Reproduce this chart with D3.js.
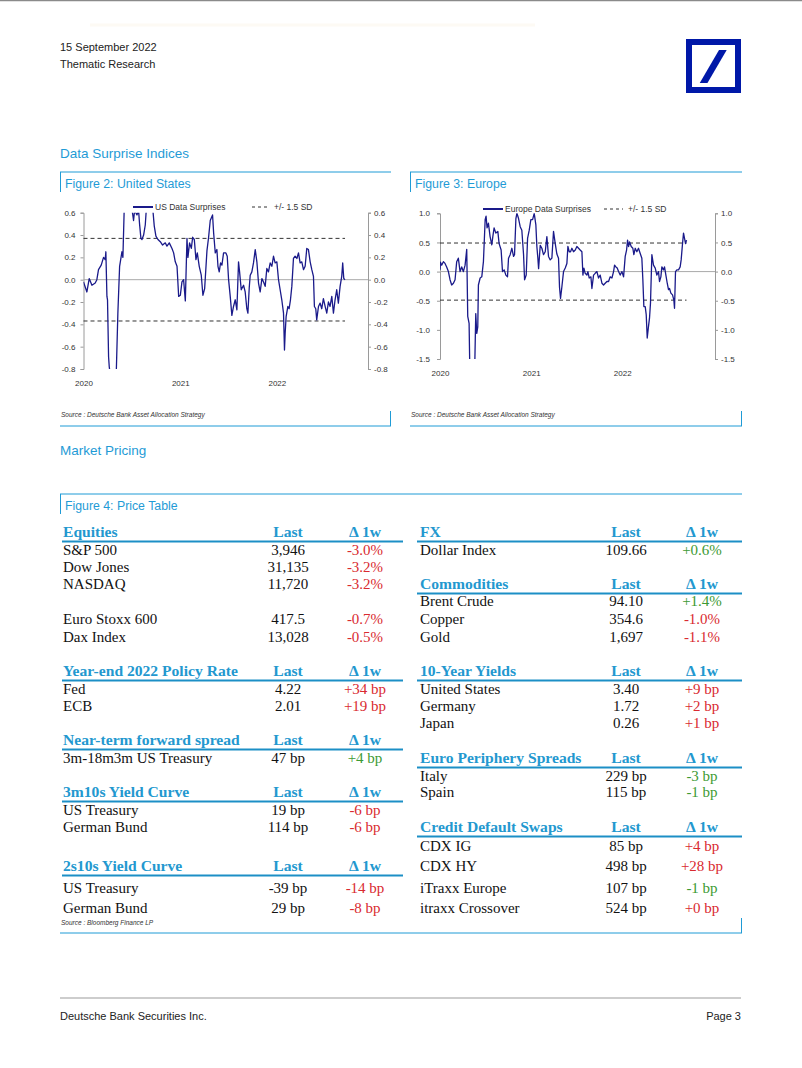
<!DOCTYPE html>
<html>
<head>
<meta charset="utf-8">
<script src="https://cdn.jsdelivr.net/npm/d3@7"></script>
<style>
  body { margin: 0; background: #fff; }
  svg { display: block; font-family: "Liberation Sans", Arial, sans-serif; }
</style>
</head>
<body>
<script>
// ---------------- DATA ----------------
// US Data Surprises (decimal year, index value)
const usTime = [2020.000,2020.035,2020.059,2020.087,2020.121,2020.138,2020.155,2020.183,2020.207,2020.224,2020.231,2020.242,2020.248,2020.259,2020.266,2020.276,2020.300,2020.320,2020.338,2020.355,2020.373,2020.397,2020.407,2020.421,2020.466,2020.517,2020.528,2020.552,2020.569,2020.579,2020.593,2020.604,2020.621,2020.638,2020.648,2020.683,2020.717,2020.731,2020.748,2020.769,2020.793,2020.817,2020.845,2020.862,2020.886,2020.914,2020.931,2020.948,2020.966,2020.983,2021.000,2021.017,2021.034,2021.052,2021.069,2021.079,2021.096,2021.114,2021.128,2021.145,2021.162,2021.176,2021.196,2021.217,2021.234,2021.252,2021.276,2021.293,2021.310,2021.334,2021.345,2021.362,2021.379,2021.390,2021.403,2021.417,2021.431,2021.448,2021.472,2021.486,2021.500,2021.517,2021.534,2021.551,2021.569,2021.586,2021.603,2021.614,2021.631,2021.655,2021.672,2021.689,2021.700,2021.714,2021.724,2021.741,2021.758,2021.776,2021.793,2021.810,2021.827,2021.845,2021.862,2021.879,2021.896,2021.913,2021.931,2021.948,2021.965,2021.982,2022.000,2022.017,2022.034,2022.051,2022.069,2022.079,2022.086,2022.096,2022.114,2022.127,2022.141,2022.155,2022.172,2022.189,2022.207,2022.224,2022.241,2022.258,2022.276,2022.293,2022.310,2022.327,2022.345,2022.362,2022.379,2022.389,2022.403,2022.413,2022.431,2022.448,2022.465,2022.482,2022.500,2022.517,2022.534,2022.551,2022.569,2022.586,2022.603,2022.620,2022.637,2022.655,2022.672,2022.682,2022.693,2022.706];
const usValue = [-0.02,-0.11,0.01,-0.05,-0.03,0.00,0.09,0.13,0.20,0.18,0.25,-0.15,-0.18,-0.69,-0.78,-0.85,-1.10,-1.05,-0.85,-0.30,0.12,0.25,0.20,0.65,0.85,0.53,0.62,0.58,0.62,0.50,0.37,0.36,0.40,0.49,0.62,0.72,0.62,0.48,0.39,0.36,0.34,0.31,0.33,0.30,0.33,0.28,0.24,0.16,0.12,-0.15,-0.14,-0.02,0.00,-0.19,0.37,0.20,0.33,0.28,0.38,0.36,0.18,0.24,0.12,0.04,-0.14,-0.08,0.26,0.38,0.53,0.58,0.42,0.24,0.27,0.12,0.07,0.15,0.13,0.24,0.24,0.21,0.00,-0.15,-0.32,-0.24,-0.18,-0.27,0.16,0.07,-0.09,-0.05,-0.11,-0.26,-0.30,-0.07,0.04,0.07,0.15,0.27,0.16,-0.03,-0.11,0.01,-0.02,-0.06,0.10,0.07,0.15,0.12,0.21,0.15,0.16,0.00,-0.09,-0.18,-0.30,-0.63,-0.48,-0.33,-0.24,-0.26,-0.18,-0.06,0.19,0.21,0.19,0.24,0.15,0.16,0.09,0.12,0.28,0.27,0.16,0.09,0.03,-0.24,-0.26,-0.36,-0.24,-0.21,-0.26,-0.17,-0.24,-0.30,-0.20,-0.24,-0.15,-0.30,-0.18,-0.09,-0.21,-0.06,0.03,0.15,0.01,0.00];

// Europe Data Surprises (decimal year, index value)
const euTime = [2020.000,2020.005,2020.018,2020.037,2020.055,2020.073,2020.092,2020.110,2020.128,2020.147,2020.165,2020.183,2020.201,2020.220,2020.238,2020.256,2020.275,2020.293,2020.304,2020.319,2020.326,2020.350,2020.380,2020.392,2020.403,2020.414,2020.421,2020.440,2020.458,2020.476,2020.495,2020.505,2020.516,2020.531,2020.549,2020.568,2020.579,2020.593,2020.612,2020.634,2020.648,2020.670,2020.685,2020.703,2020.722,2020.740,2020.751,2020.769,2020.788,2020.806,2020.817,2020.832,2020.843,2020.861,2020.879,2020.897,2020.916,2020.927,2020.945,2020.960,2020.978,2020.996,2021.015,2021.033,2021.051,2021.062,2021.073,2021.081,2021.099,2021.117,2021.135,2021.154,2021.172,2021.190,2021.209,2021.227,2021.245,2021.264,2021.282,2021.300,2021.311,2021.322,2021.337,2021.355,2021.374,2021.392,2021.403,2021.418,2021.432,2021.447,2021.465,2021.484,2021.502,2021.520,2021.538,2021.557,2021.568,2021.579,2021.593,2021.612,2021.623,2021.637,2021.656,2021.667,2021.685,2021.703,2021.722,2021.740,2021.758,2021.777,2021.795,2021.813,2021.832,2021.850,2021.868,2021.887,2021.905,2021.916,2021.931,2021.945,2021.960,2021.978,2021.997,2022.015,2022.033,2022.048,2022.059,2022.070,2022.081,2022.099,2022.117,2022.128,2022.143,2022.161,2022.179,2022.198,2022.216,2022.227,2022.238,2022.253,2022.264,2022.275,2022.289,2022.300,2022.311,2022.326,2022.344,2022.363,2022.381,2022.399,2022.410,2022.425,2022.436,2022.454,2022.465,2022.480,2022.495,2022.509,2022.520,2022.535,2022.553,2022.568,2022.575,2022.586,2022.601,2022.619,2022.637,2022.648,2022.663,2022.674,2022.685,2022.696,2022.707];
const euValue = [0.03,0.16,0.11,0.17,0.14,0.08,0.00,-0.14,-0.23,-0.20,-0.14,0.17,0.23,0.00,0.08,0.00,0.11,0.38,-0.77,-0.89,-1.60,-2.00,-1.70,-0.72,-1.06,-0.95,-0.23,-0.11,-0.09,0.17,0.89,0.95,0.75,0.83,0.60,0.46,0.60,0.75,0.66,0.69,0.48,0.37,0.00,0.03,-0.06,-0.09,0.23,0.29,0.40,0.26,0.29,0.91,1.00,0.91,0.77,0.71,0.29,-0.14,-0.06,0.57,0.71,0.89,0.89,1.00,0.80,0.43,0.23,0.05,0.45,0.40,0.29,0.34,0.60,0.26,0.20,0.23,0.69,0.48,0.30,0.23,-0.27,-0.46,-0.26,0.00,0.06,0.14,0.43,0.34,0.34,0.40,0.34,0.37,0.43,0.40,0.37,0.34,-0.06,0.06,-0.03,-0.06,0.00,-0.11,-0.09,-0.29,-0.06,-0.03,0.00,-0.11,-0.06,-0.20,-0.23,-0.20,-0.17,-0.17,-0.09,-0.11,0.00,0.11,0.08,0.06,0.00,-0.06,0.00,-0.09,0.26,0.37,0.54,0.43,0.51,0.43,0.40,0.29,0.40,0.34,0.40,0.31,0.23,-0.14,-0.60,-0.60,-0.74,-1.14,-0.94,-0.80,-0.54,0.29,0.11,0.06,-0.06,0.00,-0.17,-0.09,0.08,0.03,0.08,-0.06,-0.20,-0.31,-0.29,-0.37,-0.40,-0.49,-0.63,0.00,0.03,0.03,0.08,0.20,0.48,0.66,0.57,0.48,0.54];

const usBand = 0.37;       // +/- 1.5 SD
const euBand = 0.49;
const usYTicks = [-0.8,-0.6,-0.4,-0.2,0.0,0.2,0.4,0.6];
const euYTicks = [-1.5,-1.0,-0.5,0.0,0.5,1.0];
const yearTicks = [2020, 2021, 2022];

// Price table (row-by-row; "h" = section header row)
const leftLabels  = ["Equities","S&P 500","Dow Jones","NASDAQ","","Euro Stoxx 600","Dax Index","","Year-end 2022 Policy Rate","Fed","ECB","","Near-term forward spread","3m-18m3m US Treasury","","3m10s Yield Curve","US Treasury","German Bund","","2s10s Yield Curve","US Treasury","German Bund"];
const leftLast    = ["Last","3,946","31,135","11,720","","417.5","13,028","","Last","4.22","2.01","","Last","47 bp","","Last","19 bp","114 bp","","Last","-39 bp","29 bp"];
const leftChange  = ["Δ 1w","-3.0%","-3.2%","-3.2%","","-0.7%","-0.5%","","Δ 1w","+34 bp","+19 bp","","Δ 1w","+4 bp","","Δ 1w","-6 bp","-6 bp","","Δ 1w","-14 bp","-8 bp"];
const leftSignal  = ["h","neg","neg","neg","","neg","neg","","h","neg","neg","","h","pos","","h","neg","neg","","h","neg","neg"];

const rightLabels = ["FX","Dollar Index","","Commodities","Brent Crude","Copper","Gold","","10-Year Yields","United States","Germany","Japan","","Euro Periphery Spreads","Italy","Spain","","Credit Default Swaps","CDX IG","CDX HY","iTraxx Europe","itraxx Crossover"];
const rightLast   = ["Last","109.66","","Last","94.10","354.6","1,697","","Last","3.40","1.72","0.26","","Last","229 bp","115 bp","","Last","85 bp","498 bp","107 bp","524 bp"];
const rightChange = ["Δ 1w","+0.6%","","Δ 1w","+1.4%","-1.0%","-1.1%","","Δ 1w","+9 bp","+2 bp","+1 bp","","Δ 1w","-3 bp","-1 bp","","Δ 1w","+4 bp","+28 bp","-1 bp","+0 bp"];
const rightSignal = ["h","pos","","h","pos","neg","neg","","h","neg","neg","neg","","h","pos","pos","","h","neg","neg","pos","neg"];

// ---------------- DRAWING ----------------
const W = 802, H = 1068;
const BLUE = "#1f9bd6", NAVY = "#1a1a8a", DB = "#0018a8";
const SERIF = "'Liberation Serif', 'Times New Roman', serif";
const svg = d3.select("body").append("svg").attr("width", W).attr("height", H);
svg.append("rect").attr("width", W).attr("height", H).attr("fill", "#fff");

const toDate = t => {
  const y = Math.floor(t);
  const a = new Date(y, 0, 1), b = new Date(y + 1, 0, 1);
  return new Date(+a + (t - y) * (b - a));
};
const fmt = d => d3.format(".1f")(d).replace("\u2212", "-");

// page chrome
svg.append("line").attr("x1", 0).attr("x2", W).attr("y1", 0.5).attr("y2", 0.5).attr("stroke", "#8a8a8a").attr("stroke-width", 1.5);
svg.append("line").attr("x1", 90).attr("x2", 535).attr("y1", 25).attr("y2", 25).attr("stroke", "#fdfaf4").attr("stroke-width", 3);
svg.append("text").attr("x", 60).attr("y", 51).attr("font-size", 11).attr("fill", "#222").text("15 September 2022");
svg.append("text").attr("x", 60).attr("y", 68).attr("font-size", 11).attr("fill", "#222").text("Thematic Research");

// logo
const lg = svg.append("g").attr("transform", "translate(686,39)");
const S = 55;
lg.append("rect").attr("width", S).attr("height", S - 1).attr("fill", DB);
lg.append("rect").attr("x", 6).attr("y", 6).attr("width", S - 12).attr("height", S - 13).attr("fill", "#fff");
lg.append("path").attr("fill", DB)
  .attr("d", `M${S*0.25},${S*0.8} L${S*0.39},${S*0.8} L${S*0.74},${S*0.2} L${S*0.6},${S*0.2} Z`);

svg.append("text").attr("x", 60).attr("y", 158).attr("font-size", 13.5).attr("fill", BLUE).text("Data Surprise Indices");
svg.append("text").attr("x", 60).attr("y", 455).attr("font-size", 13.5).attr("fill", BLUE).text("Market Pricing");

// figure frames
function frame(x0, x1, yTop, yBot, title, source, tickH) {
  const g = svg.append("g");
  g.append("line").attr("x1", x0).attr("x2", x1).attr("y1", yTop).attr("y2", yTop).attr("stroke", BLUE).attr("stroke-width", 1);
  g.append("line").attr("x1", x0 + 0.5).attr("x2", x0 + 0.5).attr("y1", yTop).attr("y2", yTop + 20).attr("stroke", BLUE).attr("stroke-width", 1);
  g.append("text").attr("x", x0 + 5).attr("y", yTop + 16).attr("font-size", 12.3).attr("fill", BLUE).text(title);
  g.append("line").attr("x1", x0).attr("x2", x1).attr("y1", yBot).attr("y2", yBot).attr("stroke", BLUE).attr("stroke-width", 1);
  g.append("line").attr("x1", x1 - 0.5).attr("x2", x1 - 0.5).attr("y1", yBot - tickH).attr("y2", yBot).attr("stroke", BLUE).attr("stroke-width", 1);
  if (source) g.append("text").attr("x", x0 + 1).attr("y", yBot - 9).attr("font-size", 6.5).attr("font-style", "italic").attr("fill", "#333").text(source);
}
frame(60, 391, 172, 426, "Figure 2: United States", "Source : Deutsche Bank Asset Allocation Strategy", 15);
frame(410, 742, 172, 426, "Figure 3: Europe", "Source : Deutsche Bank Asset Allocation Strategy", 15);
frame(60, 742, 494, 933, "Figure 4: Price Table", null, 15);
svg.append("text").attr("x", 61).attr("y", 924.5).attr("font-size", 6.5).attr("font-style", "italic").attr("fill", "#333").text("Source : Bloomberg Finance LP");

// line charts
function lineChart(c) {
  const g = svg.append("g");
  const x = d3.scaleTime().domain([toDate(2020), toDate(c.xEnd)]).range([c.x0, c.x1]);
  const y = d3.scaleLinear().domain(c.yDomain).range([c.y1, c.y0]);
  const data = c.time.map((t, i) => ({ d: toDate(t), v: c.value[i] }));
  const clipId = "clip" + c.id;
  g.append("clipPath").attr("id", clipId).append("rect")
    .attr("x", c.x0).attr("y", c.y0).attr("width", c.x1 - c.x0).attr("height", c.y1 - c.y0);

  const axStyle = sel => {
    sel.select(".domain").attr("stroke", "#9a9a9a");
    sel.selectAll(".tick line").attr("stroke", "#9a9a9a");
    sel.selectAll(".tick text").attr("font-size", 8).attr("fill", "#333")
      .attr("font-family", "'Liberation Sans', Arial, sans-serif");
  };
  g.append("g").attr("transform", `translate(${c.x0},0)`)
    .call(d3.axisLeft(y).tickValues(c.yTicks).tickFormat(fmt).tickSizeInner(3).tickSizeOuter(3).tickPadding(c.padL))
    .call(axStyle);
  g.append("g").attr("transform", `translate(${c.x1},0)`)
    .call(d3.axisRight(y).tickValues(c.yTicks).tickFormat(fmt).tickSizeInner(3).tickSizeOuter(3).tickPadding(c.padR))
    .call(axStyle);
  const xa = g.append("g").attr("transform", `translate(0,${c.y1})`)
    .call(d3.axisBottom(x).tickValues(yearTicks.map(toDate)).tickFormat(d3.timeFormat("%Y")).tickSize(0).tickPadding(c.padX))
    .call(axStyle);
  xa.select(".domain").remove();

  g.append("line").attr("x1", c.x0).attr("x2", c.x1).attr("y1", y(0)).attr("y2", y(0))
    .attr("stroke", "#aaa").attr("stroke-width", 1);
  const dStart = x(data[0].d), dEnd = x(data[data.length - 1].d);
  [c.band, -c.band].forEach(b => {
    g.append("line").attr("x1", dStart).attr("x2", dEnd).attr("y1", y(b)).attr("y2", y(b))
      .attr("stroke", "#333").attr("stroke-width", 1).attr("stroke-dasharray", "4,3");
  });
  g.append("path").datum(data).attr("clip-path", `url(#${clipId})`)
    .attr("fill", "none").attr("stroke", NAVY).attr("stroke-width", 1.3).attr("stroke-linejoin", "round")
    .attr("d", d3.line().x(d => x(d.d)).y(d => y(d.v)));

  const L = c.legend;
  g.append("line").attr("x1", L.x).attr("x2", L.x + 20).attr("y1", L.y).attr("y2", L.y).attr("stroke", NAVY).attr("stroke-width", 2);
  g.append("text").attr("x", L.x + 22).attr("y", L.y + 3).attr("font-size", 8.5).attr("fill", "#333").text(c.name);
  g.append("line").attr("x1", L.x2).attr("x2", L.x2 + L.dashW).attr("y1", L.y).attr("y2", L.y)
    .attr("stroke", "#333").attr("stroke-width", 1).attr("stroke-dasharray", "3,3");
  g.append("text").attr("x", L.x2 + L.dashW + 5).attr("y", L.y + 3).attr("font-size", 8.5).attr("fill", "#333").text("+/- 1.5 SD");
}

lineChart({ id: "us", time: usTime, value: usValue, band: usBand, xEnd: 2022.944,
  x0: 83.5, x1: 368, y0: 212.7, y1: 369, yDomain: [-0.8, 0.6], yTicks: usYTicks,
  padL: 5, padR: 3, padX: 11, name: "US Data Surprises",
  legend: { x: 133, y: 207, x2: 252, dashW: 17 } });
lineChart({ id: "eu", time: euTime, value: euValue, band: euBand, xEnd: 2023.02,
  x0: 440, x1: 715, y0: 213.3, y1: 359, yDomain: [-1.5, 1.0], yTicks: euYTicks,
  padL: 7, padR: 3, padX: 11, name: "Europe Data Surprises",
  legend: { x: 483, y: 209, x2: 604, dashW: 19 } });

// price table
const rowY = [537,555,572,589,606,624,642,659,676,694,711,728,745,763,781,797,815,832,851,871,893,913];
const sigColor = { neg: "#d92a30", pos: "#3c9a33" };
function table(labels, last, change, signal, xl, xLast, xChg, lx0, lx1) {
  const g = svg.append("g");
  labels.forEach((lab, i) => {
    if (!lab) return;
    const y = rowY[i];
    const hdr = signal[i] === "h";
    const t = (xx, txt, anchor, fill) => g.append("text").attr("x", xx).attr("y", y)
      .attr("text-anchor", anchor).attr("fill", fill)
      .style("font-family", SERIF).style("font-size", hdr ? "15.6px" : "15px")
      .style("font-weight", hdr ? "bold" : "normal").text(txt);
    if (hdr) {
      t(xl, lab, "start", "#2398cf");
      t(xLast, last[i], "middle", "#2398cf");
      t(xChg, change[i], "middle", "#2398cf");
      g.append("line").attr("x1", lx0).attr("x2", lx1).attr("y1", y + 4.5).attr("y2", y + 4.5)
        .attr("stroke", "#1c8fc6").attr("stroke-width", 2);
    } else {
      t(xl, lab, "start", "#111");
      t(xLast, last[i], "middle", "#111");
      t(xChg, change[i], "middle", sigColor[signal[i]]);
    }
  });
}
table(leftLabels, leftLast, leftChange, leftSignal, 63, 288, 365, 62, 403);
table(rightLabels, rightLast, rightChange, rightSignal, 420, 626, 702, 417, 742);

// footer
svg.append("line").attr("x1", 60).attr("x2", 741).attr("y1", 998).attr("y2", 998).attr("stroke", "#bdbdbd").attr("stroke-width", 1.5);
svg.append("text").attr("x", 60).attr("y", 1020).attr("font-size", 11).attr("fill", "#222").text("Deutsche Bank Securities Inc.");
svg.append("text").attr("x", 741).attr("y", 1020).attr("font-size", 11).attr("fill", "#222").attr("text-anchor", "end").text("Page 3");
</script>
</body>
</html>
